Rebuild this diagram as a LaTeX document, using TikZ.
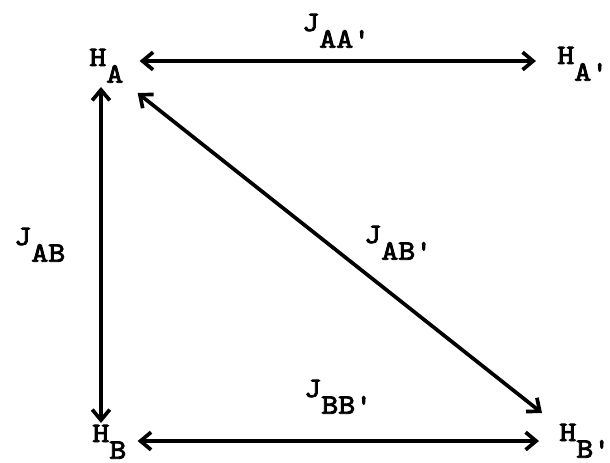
\documentclass[tikz,border=0pt]{standalone}
\usepackage{fontspec}
\newfontfamily\typew{lmmono10-regular.otf}[FakeBold=3, FakeStretch=1.15]
\usetikzlibrary{arrows.meta}
\newcommand{\lo}[1]{\raisebox{-9.5pt}{#1}}

\begin{document}
\begin{tikzpicture}[x=0.02cm, y=-0.02cm, >={Straight Barb[length=6pt,width=10pt]},
		font=\fontsize{16}{19}\selectfont\typew,
		lbl/.style={anchor=base west, inner sep=0pt},
		link/.style={<->, line width=2.1pt}]
		\useasboundingbox (0,0) rectangle (610,463);
		\node[lbl] (ha) at (89,66) {H\lo{A}};
		\node[lbl] (hap) at (557,64) {H\lo{A'}};
		\node[lbl] (hb) at (92,442) {H\lo{B}};
		\node[lbl] (hbp) at (559,441) {H\lo{B'}};
		\node[lbl] (jaa) at (302,31) {J\lo{AA'}};
		\node[lbl] (jab) at (14,245) {J\lo{AB}};
		\node[lbl] (jabp) at (364,243) {J\lo{AB'}};
		\node[lbl] (jbb) at (304,397) {J\lo{BB'}};
		\draw[link] ([shift={(16,-5)}]ha.base east) -- ([shift={(-21,-3)}]hap.base west);
		\draw[link] ([shift={(12,21)}]ha.base west) -- ([shift={(9,-19)}]hb.base west);
		\draw[link] ([shift={(11,-1)}]hb.base east) -- ([shift={(-20,0)}]hbp.base west);
		\draw[link] ([shift={(14,27)}]ha.base east) -- ([shift={(-17,-28)}]hbp.base west);
	\end{tikzpicture}
\end{document}
